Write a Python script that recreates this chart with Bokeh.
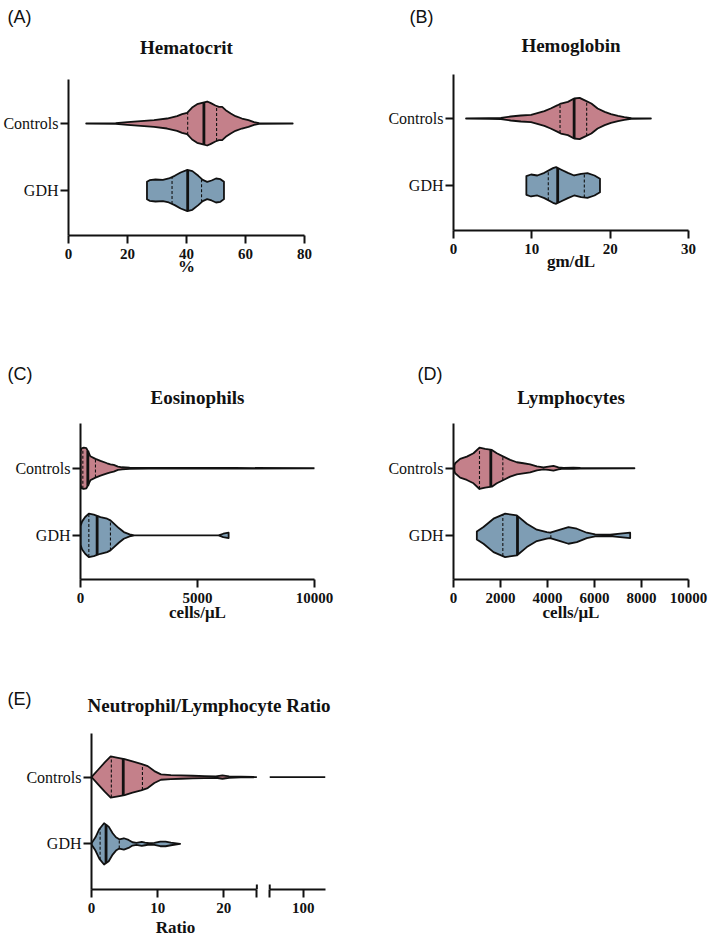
import numpy as np
from bokeh.plotting import figure
from bokeh.layouts import column, row
from bokeh.models import FixedTicker, Range1d
from bokeh.embed import file_html
from bokeh.resources import INLINE

# ------------------------------------------------------------------ data
GROUP_LABELS = {0: "GDH", 1: "Controls"}

# (A) Hematocrit (%) : violin outline = value, relative half-width
HCT_CTRL_X = [6, 16, 20, 24.5, 29, 33.4, 36.8, 38.5, 40.2, 41.9, 43.6, 45.3, 47.0, 48.1, 49.8,
              51.0, 52.1, 53.3, 55.0, 56.6, 58.8, 61.0, 62.9, 64.6, 76]
HCT_CTRL_W = [0, 1, 4, 7, 10, 15, 22, 28, 32, 48, 58, 62, 66, 62, 54,
              50, 50, 40, 30, 22, 15, 10, 4, 1, 0]
HCT_CTRL_Q = [40.4, 45.9, 50.2]
HCT_GDH_X = [26.6, 27.5, 29.5, 32.0, 34.0, 36.0, 38.0, 40.3, 42.0, 44.0, 45.5, 47.0, 48.5, 50.0, 51.5, 52.7]
HCT_GDH_W = [26, 31, 33, 32, 36, 44, 54, 62, 58, 44, 32, 26, 30, 36, 34, 26]
HCT_GDH_Q = [35.1, 40.4, 45.1]
HCT_TICKS = [0, 20, 40, 60, 80]
HCT_LIMITS = (0, 80)

# (B) Hemoglobin (gm/dL)
HGB_CTRL_X = [1.6, 4.5, 6.05, 7.3, 8.6, 9.9, 10.7, 11.6, 12.4, 13.3, 13.7, 14.6, 15.4, 16.1,
              16.7, 17.6, 18.4, 19.3, 20.1, 21.0, 21.8, 22.7, 25.2]
HGB_CTRL_W = [0, 1, 2, 6, 9, 11, 16, 22, 30, 40, 45, 50, 60, 62,
              55, 45, 30, 20, 13, 8, 4, 1, 0]
HGB_CTRL_Q = [13.6, 15.4, 17.0]
HGB_GDH_X = [9.3, 9.9, 10.7, 11.6, 12.7, 13.1, 13.7, 14.6, 15.4, 16.3, 17.1, 18.0, 18.7]
HGB_GDH_W = [28, 33, 30, 38, 52, 55, 48, 38, 30, 35, 37, 30, 20]
HGB_GDH_Q = [12.1, 13.3, 16.7]
HGB_TICKS = [0, 10, 20, 30]
HGB_LIMITS = (0, 30)

# (C) Eosinophils (cells/uL)
EOS_CTRL_X = [0, 50, 140, 250, 330, 420, 640, 853, 1138, 1280, 1420, 1600, 1780, 2100, 2900, 6600, 10000]
EOS_CTRL_W = [50, 60, 62, 60, 50, 36, 28, 22, 15, 12, 10, 5, 3, 2, 1, 1, 0]
EOS_CTRL_Q = [100, 313, 640]
EOS_GDH_X = [0, 70, 200, 356, 569, 853, 1138, 1280, 1420, 1636, 1850, 2100, 2300, 5900, 6100, 6330]
EOS_GDH_W = [28, 42, 55, 65, 62, 55, 50, 45, 36, 22, 10, 3, 0, 0, 5, 8]
EOS_GDH_Q = [356, 711, 1280]
EOS_TICKS = [0, 5000, 10000]
EOS_LIMITS = (0, 10000)

# (D) Lymphocytes (cells/uL)
LYM_CTRL_X = [40, 70, 284, 567, 851, 1106, 1347, 1631, 1844, 2127, 2411, 2695, 2978, 3262, 3546,
              3829, 4040, 4254, 4467, 4680, 5100, 5400, 7700]
LYM_CTRL_W = [8, 15, 28, 35, 45, 62, 58, 55, 45, 35, 25, 18, 15, 12, 6,
              3, 5, 7, 3, 1, 2, 1, 0]
LYM_CTRL_Q = [1106, 1588, 2099]
LYM_GDH_X = [993, 1276, 1702, 2198, 2695, 3120, 3546, 3971, 4113, 4538, 4892, 5248, 5673, 6027, 6666, 7092, 7518]
LYM_GDH_W = [12, 25, 50, 65, 60, 35, 17, 10, 8, 17, 25, 20, 8, 3, 2, 5, 8]
LYM_GDH_Q = [2099, 2723, 4142]
LYM_TICKS = [0, 2000, 4000, 6000, 8000, 10000]
LYM_LIMITS = (0, 10000)

# (E) Neutrophil/Lymphocyte ratio (broken x axis)
NLR_CTRL_X = [0, 1, 2, 2.9, 4, 5, 6.2, 7.5, 8.5, 9.5, 10.5, 12, 13.5, 15.3, 17.1, 18.8, 19.8, 20.8, 22.6, 24.5]
NLR_CTRL_W = [0, 22, 44, 62, 58, 54, 47, 40, 33, 18, 8, 6, 5, 4, 3, 2, 5, 2, 1, 0.5]
NLR_CTRL_Q = [3.0, 4.8, 7.7]
NLR_CTRL_MAX = 104
NLR_GDH_X = [0, 0.6, 1.2, 1.9, 2.6, 3.2, 3.7, 4.2, 4.9, 5.6, 6.2, 6.8, 7.6, 8.1, 8.7, 9.5, 10.4, 11.2, 12, 13.4]
NLR_GDH_W = [2, 20, 45, 62, 52, 32, 20, 14, 17, 12, 5, 3, 6, 4, 2, 3, 7, 7, 4, 0]
NLR_GDH_Q = [1.3, 2.2, 4.2]
NLR_TICKS_LOW = [0, 10, 20]
NLR_TICKS_HIGH = [100]
NLR_SEG1 = (0, 25)
NLR_SEG2 = (94, 104)

# ------------------------------------------------------------------ style / layout
SERIF = "Liberation Serif"
SANS = "Liberation Sans"
INK = "#111111"
CTRL_FILL = "#C4808A"
GDH_FILL = "#7E9DB4"
HALF_SCALE = 1.0 / 201.0   # relative width -> y units
PAGE_W = 709
LEFT_W = 345
RIGHT_W = PAGE_W - LEFT_W
BREAK_PAD = 0.4            # room beyond each axis break (x units)
BREAK_UP = 0.075           # upward part of the break marks (y units)


def draw_violin(p, xs, ws, qs, yc, fill):
    xs = np.asarray(xs, float)
    hw = np.asarray(ws, float) * HALF_SCALE
    p.patch(np.r_[xs, xs[::-1]], np.r_[yc + hw, (yc - hw)[::-1]],
            fill_color=fill, line_color=INK, line_width=1.8, line_join="round")
    qs = np.asarray(qs, float)
    qh = np.interp(qs, xs, hw)
    p.segment(x0=qs[[0, 2]], x1=qs[[0, 2]], y0=yc - qh[[0, 2]], y1=yc + qh[[0, 2]],
              line_color=INK, line_width=1.1, line_dash="3 2")
    p.segment(x0=[qs[1]], x1=[qs[1]], y0=[yc - qh[1]], y1=[yc + qh[1]],
              line_color=INK, line_width=2.8)


def header(width, height, text, kind, align="left", offset=0, left=0, frame_w=None, standoff=0):
    fw = (width - left) if frame_w is None else frame_w
    h = figure(frame_width=fw, frame_height=1,
               min_border_left=left, min_border_right=width - left - fw,
               min_border_top=height - 1, min_border_bottom=0,
               x_axis_location=None, y_axis_location=None,
               toolbar_location=None, tools="", output_backend="svg")
    h.outline_line_color = None
    h.background_fill_color = "white"
    h.border_fill_color = "white"
    h.title.text = text
    h.title.align = align
    h.title.offset = offset
    h.title.standoff = standoff
    h.title.text_color = INK
    if kind == "letter":
        h.title.text_font = SANS
        h.title.text_font_style = "normal"
        h.title.text_font_size = "18px"
    else:
        h.title.text_font = SERIF
        h.title.text_font_style = "bold"
        h.title.text_font_size = "19px"
    return h


def data_fig(xlim, ylim, width, left, frame_w, top, bottom, ticks, xlabel, label_standoff,
             y_axis=True):
    p = figure(x_range=Range1d(*xlim), y_range=Range1d(*ylim),
               frame_width=frame_w, frame_height=156,
               min_border_left=left, min_border_right=width - left - frame_w,
               min_border_top=top, min_border_bottom=bottom,
               y_axis_location="left" if y_axis else None,
               output_backend="svg", toolbar_location=None, tools="")
    p.grid.visible = False
    p.outline_line_color = None
    p.background_fill_color = "white"
    p.border_fill_color = "white"

    xa = p.below[0]
    xa.ticker = FixedTicker(ticks=ticks, minor_ticks=[])
    xa.axis_line_width = 2
    xa.axis_line_color = INK
    xa.major_tick_line_width = 2
    xa.major_tick_line_color = INK
    xa.minor_tick_line_color = None
    xa.major_tick_in = 0
    xa.major_tick_out = 8
    xa.major_label_standoff = 5
    xa.major_label_text_font = SERIF
    xa.major_label_text_font_style = "bold"
    xa.major_label_text_font_size = "15px"
    xa.major_label_text_color = INK
    if xlabel:
        xa.axis_label = xlabel
        xa.axis_label_text_font = SERIF
        xa.axis_label_text_font_style = "bold"
        xa.axis_label_text_font_size = "17px"
        xa.axis_label_text_color = INK
        xa.axis_label_standoff = label_standoff

    if y_axis:
        ya = p.left[0]
        ya.ticker = FixedTicker(ticks=list(GROUP_LABELS.keys()), minor_ticks=[])
        ya.major_label_overrides = GROUP_LABELS
        ya.axis_line_width = 2
        ya.axis_line_color = INK
        ya.major_tick_line_width = 2
        ya.major_tick_line_color = INK
        ya.minor_tick_line_color = None
        ya.major_tick_in = 0
        ya.major_tick_out = 8
        ya.major_label_standoff = 2
        ya.major_label_text_font = SERIF
        ya.major_label_text_font_size = "16px"
        ya.major_label_text_color = INK
    return p


# ---------------- band 1: panel letters A / B
band_l1 = row(header(LEFT_W, 27, "(A)", "letter", offset=7),
              header(RIGHT_W, 27, "(B)", "letter", offset=64))
# ---------------- band 2: titles A / B
band_t1 = row(header(LEFT_W, 31, "Hematocrit", "title", align="center", left=68, frame_w=236),
              header(RIGHT_W, 31, "Hemoglobin", "title", align="center", left=108, frame_w=235,
                     standoff=3))
# ---------------- band 3: data A / B (B's frame sits 5 px higher than A's)
pa = data_fig(HCT_LIMITS, (-0.672, 1.657), LEFT_W, 68, 236, 21, 65, HCT_TICKS, "%", -5)
draw_violin(pa, HCT_CTRL_X, HCT_CTRL_W, HCT_CTRL_Q, 1, CTRL_FILL)
draw_violin(pa, HCT_GDH_X, HCT_GDH_W, HCT_GDH_Q, 0, GDH_FILL)
pb = data_fig(HGB_LIMITS, (-0.672, 1.657), RIGHT_W, 108, 235, 16, 70, HGB_TICKS, "gm/dL", -5)
draw_violin(pb, HGB_CTRL_X, HGB_CTRL_W, HGB_CTRL_Q, 1, CTRL_FILL)
draw_violin(pb, HGB_GDH_X, HGB_GDH_W, HGB_GDH_Q, 0, GDH_FILL)
band_d1 = row(column(pa), column(pb))

# ---------------- band 4/5: letters and titles C / D
band_l2 = row(header(LEFT_W, 84, "(C)", "letter", offset=7),
              header(RIGHT_W, 84, "(D)", "letter", offset=72))
band_t2 = row(header(LEFT_W, 24, "Eosinophils", "title", align="center", left=80, frame_w=234),
              header(RIGHT_W, 24, "Lymphocytes", "title", align="center", left=108, frame_w=235))
# ---------------- band 6: data C / D
pc = data_fig(EOS_LIMITS, (-0.657, 1.667), LEFT_W, 80, 234, 15, 61, EOS_TICKS, "cells/\u03bcL", -3)
draw_violin(pc, EOS_CTRL_X, EOS_CTRL_W, EOS_CTRL_Q, 1, CTRL_FILL)
draw_violin(pc, EOS_GDH_X, EOS_GDH_W, EOS_GDH_Q, 0, GDH_FILL)
pd_ = data_fig(LYM_LIMITS, (-0.657, 1.667), RIGHT_W, 108, 235, 15, 61, LYM_TICKS, "cells/\u03bcL", -3)
draw_violin(pd_, LYM_CTRL_X, LYM_CTRL_W, LYM_CTRL_Q, 1, CTRL_FILL)
draw_violin(pd_, LYM_GDH_X, LYM_GDH_W, LYM_GDH_Q, 0, GDH_FILL)
band_d2 = row(pc, pd_)

# ---------------- band 7: letter + title E on one line
band_e_head = row(header(80, 76, "(E)", "letter", offset=7, standoff=13),
                  header(PAGE_W - 80, 76, "Neutrophil/Lymphocyte Ratio", "title", align="center",
                         left=11, frame_w=235))

# ---------------- band 8: data E, x axis broken into two segments
E_Y = (-0.682, 1.652)
E1_W, E1_LEFT, E1_FRAME = 263, 91, 168
E2_LEFT, E2_FRAME = 4, 58
pe1 = data_fig((NLR_SEG1[0], NLR_SEG1[1] + BREAK_PAD), E_Y, E1_W, E1_LEFT, E1_FRAME, 17, 50,
               NLR_TICKS_LOW + [NLR_SEG1[1]], "Ratio", 2)
pe1.below[0].bounds = NLR_SEG1
pe1.below[0].major_label_overrides = {NLR_SEG1[1]: ""}
pe2 = data_fig((NLR_SEG2[0] - BREAK_PAD, NLR_SEG2[1]), E_Y, PAGE_W - E1_W, E2_LEFT, E2_FRAME, 17, 50,
               [NLR_SEG2[0]] + NLR_TICKS_HIGH, None, 0, y_axis=False)
pe2.y_range = pe1.y_range
pe2.below[0].bounds = NLR_SEG2
pe2.below[0].major_label_overrides = {NLR_SEG2[0]: ""}

draw_violin(pe1, NLR_CTRL_X, NLR_CTRL_W, NLR_CTRL_Q, 1, CTRL_FILL)
pe1.line([NLR_CTRL_X[-1], min(NLR_CTRL_MAX, NLR_SEG1[1])], [1, 1], line_color=INK, line_width=1.8)
pe2.line([NLR_SEG2[0], NLR_CTRL_MAX], [1, 1], line_color=INK, line_width=1.8)
draw_violin(pe1, NLR_GDH_X, NLR_GDH_W, NLR_GDH_Q, 0, GDH_FILL)
# upward halves of the axis-break marks
pe1.segment(x0=[NLR_SEG1[1]], x1=[NLR_SEG1[1]], y0=[E_Y[0]], y1=[E_Y[0] + BREAK_UP],
            line_color=INK, line_width=2)
pe2.segment(x0=[NLR_SEG2[0]], x1=[NLR_SEG2[0]], y0=[E_Y[0]], y1=[E_Y[0] + BREAK_UP],
            line_color=INK, line_width=2)
band_d3 = row(pe1, pe2)

layout = column(band_l1, band_t1, band_d1, band_l2, band_t2, band_d2, band_e_head, band_d3)

with open("out.html", "w", encoding="utf-8") as f:
    f.write(file_html(layout, INLINE, title="Violin plots"))
